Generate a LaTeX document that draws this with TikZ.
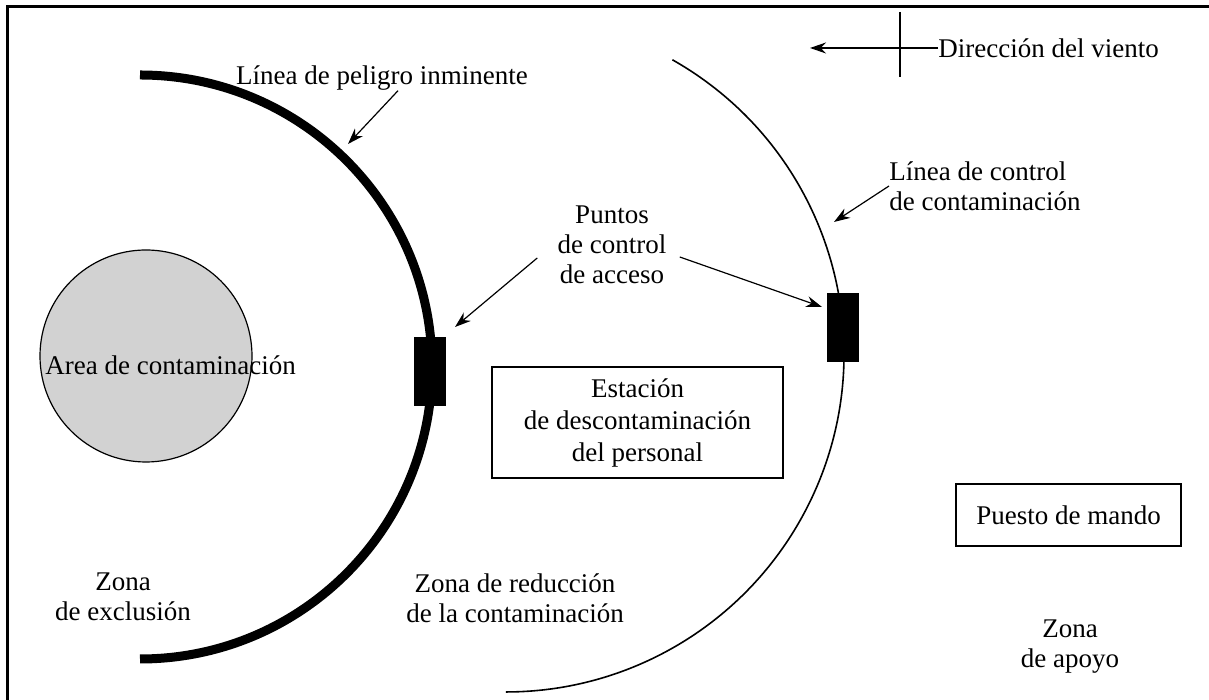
\documentclass[tikz,border=0pt]{standalone}
\usepackage{fontspec}
\setmainfont{Liberation Serif}
\usetikzlibrary{arrows.meta, positioning}

\begin{document}
\begin{tikzpicture}[x=0.5pt, y=0.5pt,
    txt/.style={align=center, inner sep=0pt, font=\fontsize{13.5}{15}\selectfont},
    box/.style={draw, line width=1pt, align=center, font=\fontsize{13.5}{16}\selectfont},
    arr/.style={-{Stealth[length=8pt, width=5.5pt]}, line width=0.6pt},
    post/.style={fill=black, draw=none, minimum width=16pt, minimum height=34.5pt, inner sep=0pt}]
    % Background
    \useasboundingbox (0,0) rectangle (1209,700);
    \fill[white] (0,0) -- (0,700) -- (1209,700) -- (1209,0) -- cycle;
    \draw[line width=1.5pt] (7,0) -- (7,693) -- (1209,693);

    % Contaminated area
    \node[circle, draw, line width=0.6pt, fill=gray!35, minimum size=106pt, inner sep=0pt] (area) at (146,344) {};
    \node[txt, anchor=west] (arealbl) at (45,335) {Area de contaminación};

    % Lines
    \draw[line width=4.5pt] (140,625) arc[start angle=90, end angle=-90, radius=292];
    \draw[line width=0.8pt] (672.4,640.2) arc[start angle=60.5, end angle=-90, radius=338];

    \node[post] (post1) at (430,328.5) {};
    \node[post] (post2) at (843,372.5) {};

    % Wind
    \draw[line width=1pt] (900,688) -- (900,623);
    \node[txt, anchor=west] (viento) at (938,652) {Dirección del viento};
    \coordinate (vtip) at (810,652);
    \draw[arr] (viento.west) -- (vtip);

    % Labels with arrows
    \node[txt] (peligro) at (382,622) {Línea de peligro inminente};
    \coordinate (pelpt) at (348,556);
    \draw[arr] ([xshift=8pt]peligro.south) -- (pelpt);

    \node[txt, anchor=west, align=left] (control) at (889,514) {Línea de control\\de contaminación};
    \coordinate (ctlpt) at (834,478);
    \draw[arr] (control.west) -- (ctlpt);

    \node[txt] (puntos) at (612,455) {Puntos\\de control\\de acceso};
    \coordinate (acc1) at (455,373);
    \coordinate (acc2) at (822,393);
    \draw[arr] ([xshift=-10pt, yshift=-6.5pt]puntos.west) -- (acc1);
    \draw[arr] ([xshift=6.5pt, yshift=-6pt]puntos.east) -- (acc2);

    % Boxes
    \node[box, minimum width=145.5pt, minimum height=55.5pt] (estacion) at (637.5,277.5) {Estación\\de descontaminación\\del personal};
    \node[box, minimum width=112.5pt, minimum height=31pt] (mando) at (1068.5,185) {Puesto de mando};

    % Zones
    \node[txt] (exclusion) at (123,103) {Zona\\de exclusión};
    \node[txt] (reduccion) at (515,102) {Zona de reducción\\de la contaminación};
    \node[txt] (apoyo) at (1070,53) {Zona\\de apoyo};
\end{tikzpicture}
\end{document}
